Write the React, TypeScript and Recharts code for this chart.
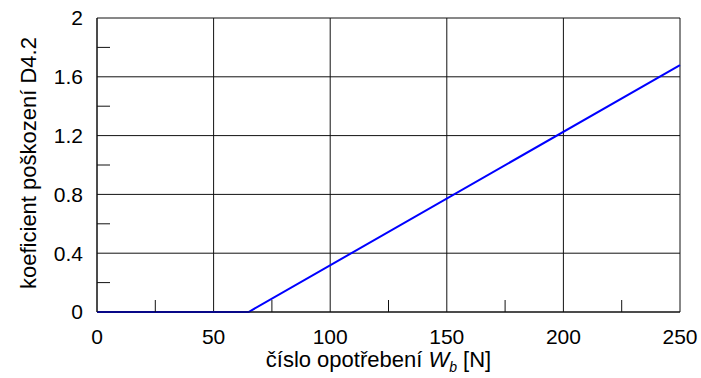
import React from 'react';
import {
  LineChart,
  Line,
  XAxis,
  YAxis,
  CartesianGrid,
} from 'recharts';

// wear number W_b [N] vs damage coefficient D4.2
const wearValues = [0, 65, 250];
const damageValues = [0, 0, 1.68];

const xTicks = [0, 50, 100, 150, 200, 250];
const yTicks = [0, 0.4, 0.8, 1.2, 1.6, 2];
const xMinorTicks = [25, 75, 125, 175, 225];
const yMinorTicks = [0.2, 0.6, 1.0, 1.4, 1.8];

const chartData = wearValues.map((w, i) => ({ w, d: damageValues[i] }));

const FONT = '"Liberation Sans", Arial, sans-serif';

const XLabel = (props: any) => {
  const vb = props.viewBox || {};
  const cx = vb.x + vb.width / 2 - 10;
  const y = vb.y + 55;
  return (
    <text x={cx} y={y} textAnchor="middle" fontFamily={FONT} fontSize={22} fill="#000">
      <tspan>číslo opotřebení </tspan>
      <tspan fontStyle="italic">W</tspan>
      <tspan fontStyle="italic" fontSize={14} dy={5}>b</tspan>
      <tspan dy={-5}> [N]</tspan>
    </text>
  );
};

const YLabel = (props: any) => {
  const vb = props.viewBox || {};
  const cy = vb.y + vb.height / 2 - 2;
  const x = 36;
  return (
    <text
      x={x}
      y={cy}
      textAnchor="middle"
      fontFamily={FONT}
      fontSize={22}
      fill="#000"
      transform={`rotate(-90, ${x}, ${cy})`}
    >
      koeficient poškození D4.2
    </text>
  );
};

const App: React.FC = () => {
  return (
    <div style={{ position: 'absolute', left: 0, top: 0, width: 701, height: 378, background: '#fff' }}>
      <LineChart
        width={701}
        height={378}
        data={chartData}
        margin={{ top: 18, right: 21, bottom: 0, left: 0 }}
      >
        <CartesianGrid stroke="#111" strokeWidth={1} />
        <XAxis
          dataKey="w"
          type="number"
          domain={[0, 250]}
          ticks={xTicks}
          tickLine={false}
          tickSize={0}
          tickMargin={17}
          axisLine={{ stroke: '#111' }}
          height={66}
          tick={{ fill: '#000', fontSize: 21, fontFamily: FONT }}
          label={<XLabel />}
        />
        <XAxis
          xAxisId="minor"
          dataKey="w"
          type="number"
          domain={[0, 250]}
          ticks={xMinorTicks}
          interval={0}
          mirror
          axisLine={false}
          tickLine={{ stroke: '#111' }}
          tickSize={12}
          tick={{ fontSize: 1, fill: 'none' }}
          tickFormatter={() => ''}
          height={1}
        />
        <YAxis
          type="number"
          domain={[0, 2]}
          ticks={yTicks}
          tickLine={false}
          tickSize={0}
          tickMargin={14}
          axisLine={{ stroke: '#111' }}
          width={97}
          tick={{ fill: '#000', fontSize: 21, fontFamily: FONT }}
          label={<YLabel />}
        />
        <YAxis
          yAxisId="minor"
          type="number"
          domain={[0, 2]}
          ticks={yMinorTicks}
          interval={0}
          mirror
          axisLine={false}
          tickLine={{ stroke: '#111' }}
          tickSize={13}
          tick={{ fontSize: 1, fill: 'none' }}
          tickFormatter={() => ''}
          width={1}
        />
        {/* invisible series so the minor-tick axes get rendered */}
        <Line
          xAxisId="minor"
          yAxisId="minor"
          dataKey="d"
          stroke="none"
          dot={false}
          activeDot={false}
          isAnimationActive={false}
        />
        <Line
          type="linear"
          dataKey="d"
          stroke="#0000ff"
          strokeWidth={2}
          dot={false}
          activeDot={false}
          isAnimationActive={false}
        />
      </LineChart>
    </div>
  );
};

export default App;
